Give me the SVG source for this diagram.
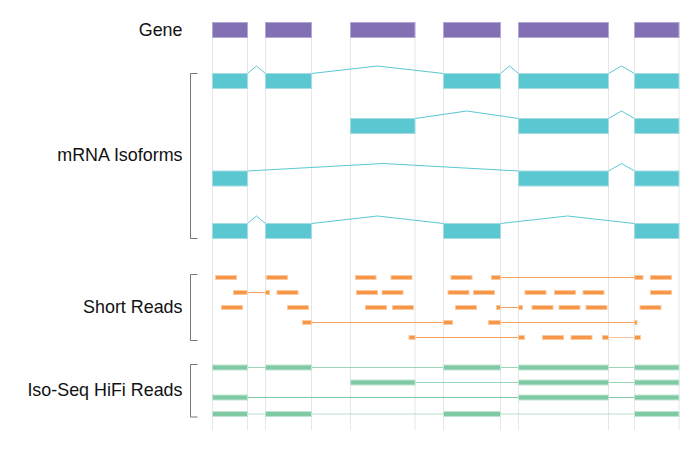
<svg xmlns="http://www.w3.org/2000/svg" width="700" height="450" viewBox="0 0 700 450">
<style>
.lbl{font-family:"Liberation Sans",Arial,sans-serif;font-size:17.9px;fill:#111;text-anchor:end}
.grid line{stroke:#e6e6e6;stroke-width:1}
.brk{fill:none;stroke:#777;stroke-width:1}
.gene{fill:#836fb4;stroke:#b3a7d6;stroke-width:1}
.iso{fill:#5bc7d1;stroke:#a3dde3;stroke-width:1}
.intron{fill:none;stroke:#5bc7d1;stroke-width:1}
.sr{fill:#f79646;stroke:#fbc9a0;stroke-width:1}
.srl{stroke:#f7a060;stroke-width:1;fill:none}
.hf{fill:#7fcaa5;stroke:#bfe5d1;stroke-width:1}
.hfl{stroke:#7fcaa5;stroke-width:1.2;fill:none}
</style>
<rect width="700" height="450" fill="#fff"/>
<g class="grid">
<line x1="212.5" y1="22" x2="212.5" y2="430"/>
<line x1="247.5" y1="22" x2="247.5" y2="430"/>
<line x1="265.5" y1="22" x2="265.5" y2="430"/>
<line x1="311.5" y1="22" x2="311.5" y2="430"/>
<line x1="350.5" y1="22" x2="350.5" y2="430"/>
<line x1="415" y1="22" x2="415" y2="430"/>
<line x1="443.5" y1="22" x2="443.5" y2="430"/>
<line x1="500.5" y1="22" x2="500.5" y2="430"/>
<line x1="518.5" y1="22" x2="518.5" y2="430"/>
<line x1="608.5" y1="22" x2="608.5" y2="430"/>
<line x1="634.5" y1="22" x2="634.5" y2="430"/>
<line x1="679" y1="22" x2="679" y2="430"/>
</g>
<g id="labels">
<text class="lbl" x="182.5" y="36">Gene</text>
<text class="lbl" x="182.5" y="160.5">mRNA Isoforms</text>
<text class="lbl" x="182.5" y="312.5">Short Reads</text>
<text class="lbl" x="182.5" y="396">Iso-Seq HiFi Reads</text>
</g>
<g id="brackets">
<path class="brk" d="M197.5,73.5H190.5V238.5H197.5"/>
<path class="brk" d="M197.5,274.5H190.5V340.5H197.5"/>
<path class="brk" d="M197.5,364.5H190.5V417H197.5"/>
</g>
<g id="connectors">
<polyline class="intron" points="247.5,73.5 256.5,66 265.5,73.5"/>
<polyline class="intron" points="311.5,73.5 377.5,66 443.5,73.5"/>
<polyline class="intron" points="500.5,73.5 509.5,66 518.5,73.5"/>
<polyline class="intron" points="608.5,73.5 621.5,66 634.5,73.5"/>
<polyline class="intron" points="415,118.5 466.75,111 518.5,118.5"/>
<polyline class="intron" points="608.5,118.5 621.5,111 634.5,118.5"/>
<polyline class="intron" points="247.5,171 383,163.5 518.5,171"/>
<polyline class="intron" points="608.5,171 621.5,163.5 634.5,171"/>
<polyline class="intron" points="247.5,223.5 256.5,216 265.5,223.5"/>
<polyline class="intron" points="311.5,223.5 377.5,216 443.5,223.5"/>
<polyline class="intron" points="500.5,223.5 567.5,216 634.5,223.5"/>
<line class="srl" x1="500.5" y1="277.5" x2="634.5" y2="277.5"/>
<line class="srl" x1="247" y1="292.5" x2="265.5" y2="292.5"/>
<line class="srl" x1="500.5" y1="307.5" x2="518.5" y2="307.5"/>
<line class="srl" x1="311.5" y1="322.5" x2="443.5" y2="322.5"/>
<line class="srl" x1="500.5" y1="322.5" x2="634.5" y2="322.5"/>
<line class="srl" x1="415" y1="337.5" x2="518.5" y2="337.5"/>
<line class="srl" x1="608.5" y1="337.5" x2="634.5" y2="337.5" stroke-opacity="0.6"/>
<line class="hfl" x1="247.5" y1="367.5" x2="634.5" y2="367.5" stroke-opacity="0.8"/>
<line class="hfl" x1="415" y1="382.5" x2="634.5" y2="382.5" stroke-opacity="0.8"/>
<line class="hfl" x1="247.5" y1="397.5" x2="634.5" y2="397.5"/>
<line class="hfl" x1="247.5" y1="414" x2="634.5" y2="414" stroke-opacity="0.55"/>
</g>
<g id="gene">
<rect class="gene" x="212.5" y="22.5" width="35" height="15"/>
<rect class="gene" x="265.5" y="22.5" width="46" height="15"/>
<rect class="gene" x="350.5" y="22.5" width="64.5" height="15"/>
<rect class="gene" x="443.5" y="22.5" width="57" height="15"/>
<rect class="gene" x="518.5" y="22.5" width="90" height="15"/>
<rect class="gene" x="634.5" y="22.5" width="44.5" height="15"/>
</g>
<g id="isoform1">
<rect class="iso" x="212.5" y="73.5" width="35" height="15"/>
<rect class="iso" x="265.5" y="73.5" width="46" height="15"/>
<rect class="iso" x="443.5" y="73.5" width="57" height="15"/>
<rect class="iso" x="518.5" y="73.5" width="90" height="15"/>
<rect class="iso" x="634.5" y="73.5" width="44.5" height="15"/>
</g>
<g id="isoform2">
<rect class="iso" x="350.5" y="118.5" width="64.5" height="15"/>
<rect class="iso" x="518.5" y="118.5" width="90" height="15"/>
<rect class="iso" x="634.5" y="118.5" width="44.5" height="15"/>
</g>
<g id="isoform3">
<rect class="iso" x="212.5" y="171" width="35" height="15"/>
<rect class="iso" x="518.5" y="171" width="90" height="15"/>
<rect class="iso" x="634.5" y="171" width="44.5" height="15"/>
</g>
<g id="isoform4">
<rect class="iso" x="212.5" y="223.5" width="35" height="15"/>
<rect class="iso" x="265.5" y="223.5" width="46" height="15"/>
<rect class="iso" x="443.5" y="223.5" width="57" height="15"/>
<rect class="iso" x="634.5" y="223.5" width="44.5" height="15"/>
</g>
<g id="shortreads">
<rect class="sr" x="215.5" y="275.5" width="21" height="4"/>
<rect class="sr" x="266.5" y="275.5" width="21" height="4"/>
<rect class="sr" x="355.5" y="275.5" width="20.5" height="4"/>
<rect class="sr" x="391" y="275.5" width="21" height="4"/>
<rect class="sr" x="451" y="275.5" width="21" height="4"/>
<rect class="sr" x="491.5" y="275.5" width="9" height="4"/>
<rect class="sr" x="634.5" y="275.5" width="8.5" height="4"/>
<rect class="sr" x="650.5" y="275.5" width="21" height="4"/>
<rect class="sr" x="233.5" y="290.5" width="13.5" height="4"/>
<rect class="sr" x="265.5" y="290.5" width="4" height="4"/>
<rect class="sr" x="277" y="290.5" width="21" height="4"/>
<rect class="sr" x="356.5" y="290.5" width="21" height="4"/>
<rect class="sr" x="382" y="290.5" width="21" height="4"/>
<rect class="sr" x="448" y="290.5" width="21" height="4"/>
<rect class="sr" x="473.5" y="290.5" width="21" height="4"/>
<rect class="sr" x="525" y="290.5" width="21" height="4"/>
<rect class="sr" x="554.5" y="290.5" width="21" height="4"/>
<rect class="sr" x="583" y="290.5" width="21" height="4"/>
<rect class="sr" x="650.5" y="290.5" width="21" height="4"/>
<rect class="sr" x="221.5" y="305.5" width="21" height="4"/>
<rect class="sr" x="287.5" y="305.5" width="21" height="4"/>
<rect class="sr" x="365.5" y="305.5" width="21" height="4"/>
<rect class="sr" x="392.5" y="305.5" width="21" height="4"/>
<rect class="sr" x="455.5" y="305.5" width="21" height="4"/>
<rect class="sr" x="496.5" y="305.5" width="4" height="4"/>
<rect class="sr" x="518.5" y="305.5" width="4" height="4"/>
<rect class="sr" x="532" y="305.5" width="21" height="4"/>
<rect class="sr" x="559" y="305.5" width="21" height="4"/>
<rect class="sr" x="586" y="305.5" width="21" height="4"/>
<rect class="sr" x="640" y="305.5" width="21" height="4"/>
<rect class="sr" x="302.5" y="320.5" width="9" height="4"/>
<rect class="sr" x="443.5" y="320.5" width="9" height="4"/>
<rect class="sr" x="488.5" y="320.5" width="12" height="4"/>
<rect class="sr" x="634.5" y="320.5" width="2.5" height="4"/>
<rect class="sr" x="409" y="335.5" width="6" height="4"/>
<rect class="sr" x="518.5" y="335.5" width="6" height="4"/>
<rect class="sr" x="542.5" y="335.5" width="21" height="4"/>
<rect class="sr" x="571" y="335.5" width="21" height="4"/>
<rect class="sr" x="602.5" y="335.5" width="6" height="4"/>
<rect class="sr" x="634.5" y="335.5" width="6" height="4"/>
</g>
<g id="hifi1">
<rect class="hf" x="212.5" y="365" width="35" height="5"/>
<rect class="hf" x="265.5" y="365" width="46" height="5"/>
<rect class="hf" x="443.5" y="365" width="57" height="5"/>
<rect class="hf" x="518.5" y="365" width="90" height="5"/>
<rect class="hf" x="634.5" y="365" width="44.5" height="5"/>
</g>
<g id="hifi2">
<rect class="hf" x="350.5" y="380" width="64.5" height="5"/>
<rect class="hf" x="518.5" y="380" width="90" height="5"/>
<rect class="hf" x="634.5" y="380" width="44.5" height="5"/>
</g>
<g id="hifi3">
<rect class="hf" x="212.5" y="395" width="35" height="5"/>
<rect class="hf" x="518.5" y="395" width="90" height="5"/>
<rect class="hf" x="634.5" y="395" width="44.5" height="5"/>
</g>
<g id="hifi4">
<rect class="hf" x="212.5" y="411.5" width="35" height="5"/>
<rect class="hf" x="265.5" y="411.5" width="46" height="5"/>
<rect class="hf" x="443.5" y="411.5" width="57" height="5"/>
<rect class="hf" x="634.5" y="411.5" width="44.5" height="5"/>
</g>
</svg>
